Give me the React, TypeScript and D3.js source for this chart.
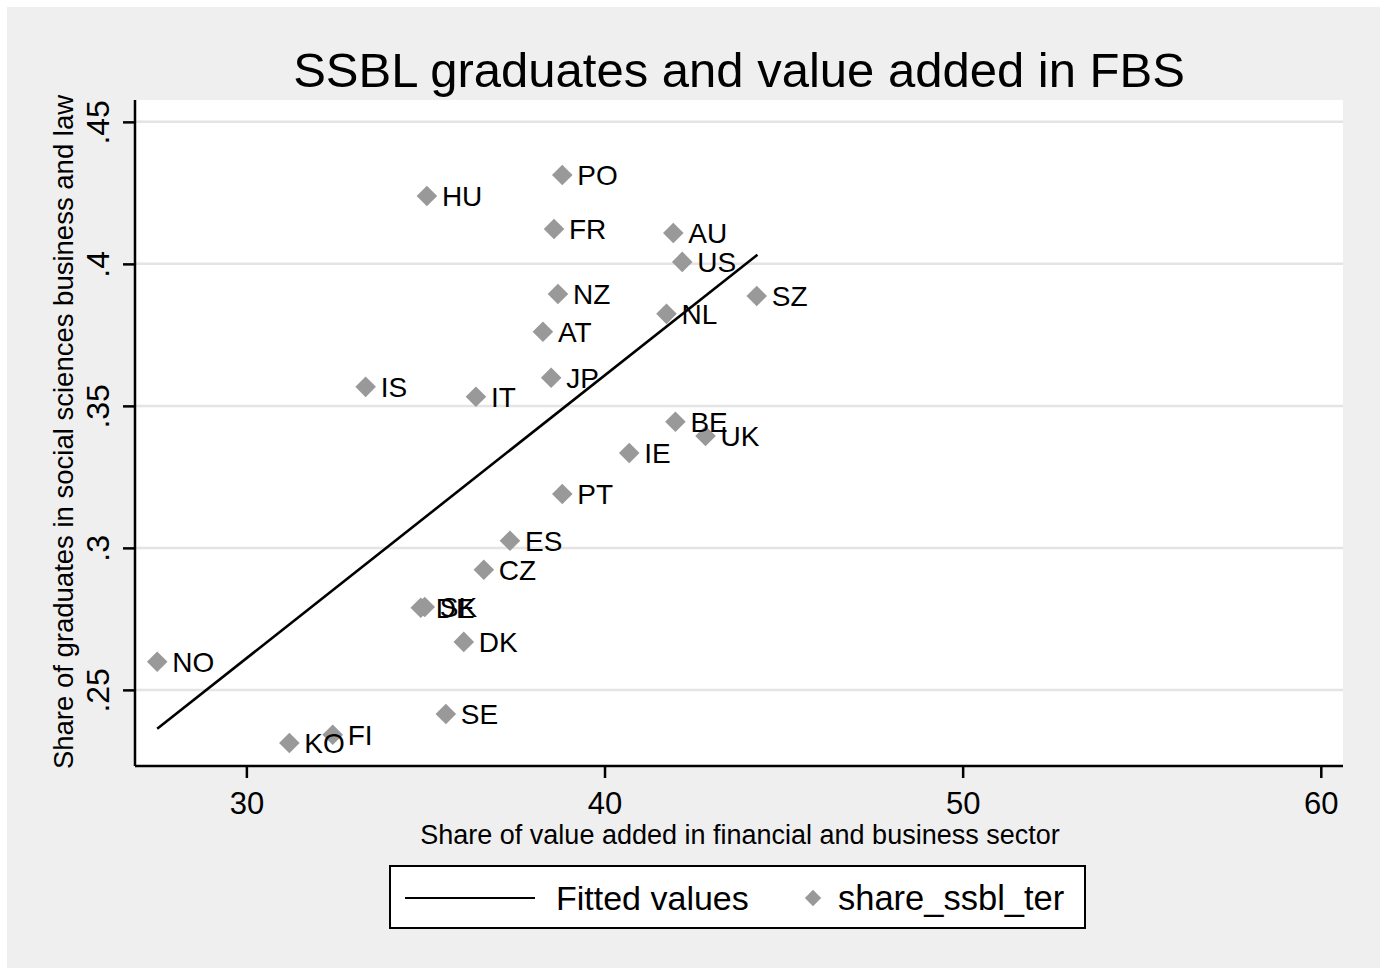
import { useEffect, useRef } from "react";
import * as d3 from "d3";

// country codes and their values
const countries = ["PO", "HU", "FR", "AU", "US", "NZ", "SZ", "NL", "AT", "JP", "IS", "IT", "BE", "UK", "IE", "PT", "ES", "CZ", "SK", "DE", "DK", "NO", "SE", "FI", "KO"];
const valueAdded = [38.82, 35.04, 38.59, 41.92, 42.17, 38.7, 44.25, 41.73, 38.28, 38.51, 33.33, 36.41, 41.98, 42.82, 40.69, 38.82, 37.36, 36.63, 34.98, 34.87, 36.07, 27.51, 35.57, 32.41, 31.2];
const ssblShare = [0.4313, 0.4239, 0.4123, 0.4109, 0.4007, 0.3894, 0.3887, 0.3824, 0.3761, 0.3599, 0.3567, 0.3532, 0.3444, 0.3394, 0.3334, 0.319, 0.3025, 0.2923, 0.2792, 0.2789, 0.2669, 0.2599, 0.2415, 0.2342, 0.2313];

// fitted line end points
const fittedX = [27.51, 44.27];
const fittedY = [0.2363, 0.4032];

const xTicks = [30, 40, 50, 60];
const yTicks = [0.25, 0.3, 0.35, 0.4, 0.45];
const yTickLabels = [".25", ".3", ".35", ".4", ".45"];

const FONT = "'Liberation Sans', Arial, sans-serif";
const MARKER = "#999999";

function App() {
  const ref = useRef<SVGSVGElement | null>(null);

  useEffect(() => {
    const W = 1386;
    const H = 974;
    const plot = { left: 135, right: 1343, top: 100, bottom: 766 };

    const svg = d3.select(ref.current);
    svg.selectAll("*").remove();

    // outer background
    svg.append("rect").attr("x", 0).attr("y", 0).attr("width", W).attr("height", H).attr("fill", "#ffffff");
    svg.append("rect").attr("x", 7).attr("y", 7).attr("width", 1373).attr("height", 961).attr("fill", "#efefef");

    const x = d3.scaleLinear().domain([26.89, 60.62]).range([plot.left, plot.right]);
    const y = d3.scaleLinear().domain([0.2232, 0.4577]).range([plot.bottom, plot.top]);

    // plot region
    svg
      .append("rect")
      .attr("x", plot.left)
      .attr("y", plot.top)
      .attr("width", plot.right - plot.left)
      .attr("height", plot.bottom - plot.top)
      .attr("fill", "#ffffff");

    // grid lines
    svg
      .append("g")
      .selectAll("line")
      .data(yTicks)
      .enter()
      .append("line")
      .attr("x1", plot.left)
      .attr("x2", plot.right)
      .attr("y1", (d) => y(d))
      .attr("y2", (d) => y(d))
      .attr("stroke", "#e4e4e4")
      .attr("stroke-width", 2.5);

    // title
    svg
      .append("text")
      .attr("x", 739)
      .attr("y", 87)
      .attr("text-anchor", "middle")
      .attr("font-family", FONT)
      .attr("font-size", 49)
      .attr("fill", "#000")
      .text("SSBL graduates and value added in FBS");

    // x axis
    const xAxis = svg
      .append("g")
      .attr("transform", `translate(0,${plot.bottom})`)
      .call(d3.axisBottom(x).tickValues(xTicks).tickSize(12).tickFormat((d) => String(d)));
    xAxis.select(".domain").attr("stroke", "#000").attr("stroke-width", 2.5).attr("d", `M${plot.left},0H${plot.right}`);
    xAxis.selectAll(".tick line").attr("stroke", "#000").attr("stroke-width", 2.5);
    xAxis
      .selectAll(".tick text")
      .attr("font-family", FONT)
      .attr("font-size", 31)
      .attr("fill", "#000")
      .attr("dy", 0)
      .attr("y", 48);

    // y axis
    const yAxis = svg
      .append("g")
      .attr("transform", `translate(${plot.left},0)`)
      .call(d3.axisLeft(y).tickValues(yTicks).tickSize(12).tickFormat((d, i) => yTickLabels[i]));
    yAxis.select(".domain").attr("stroke", "#000").attr("stroke-width", 2.5).attr("d", `M0,${plot.top}V${plot.bottom}`);
    yAxis.selectAll(".tick line").attr("stroke", "#000").attr("stroke-width", 2.5);
    yAxis
      .selectAll(".tick text")
      .attr("font-family", FONT)
      .attr("font-size", 32)
      .attr("fill", "#000")
      .attr("x", null)
      .attr("dy", null)
      .attr("text-anchor", "middle")
      .attr("transform", "translate(-26,0) rotate(-90)");

    // axis titles
    svg
      .append("text")
      .attr("x", 740)
      .attr("y", 844)
      .attr("text-anchor", "middle")
      .attr("font-family", FONT)
      .attr("font-size", 27)
      .attr("fill", "#000")
      .text("Share of value added in financial and business sector");

    svg
      .append("text")
      .attr("transform", "translate(73,432) rotate(-90)")
      .attr("text-anchor", "middle")
      .attr("font-family", FONT)
      .attr("font-size", 27.5)
      .attr("fill", "#000")
      .text("Share of graduates in social sciences business and law");

    // fitted line
    const line = d3
      .line<number>()
      .x((d, i) => x(fittedX[i]))
      .y((d) => y(d));
    svg
      .append("path")
      .attr("d", line(fittedY))
      .attr("fill", "none")
      .attr("stroke", "#000")
      .attr("stroke-width", 2.6);

    const diamond = d3.symbol().type(d3.symbolDiamond2).size(270);

    const rows = countries.map((c, i) => ({ c, vx: valueAdded[i], vy: ssblShare[i] }));

    // points
    svg
      .append("g")
      .selectAll("path")
      .data(rows)
      .enter()
      .append("path")
      .attr("transform", (d) => `translate(${x(d.vx)},${y(d.vy)})`)
      .attr("d", diamond)
      .attr("fill", MARKER);

    // labels on top
    svg
      .append("g")
      .selectAll("text")
      .data(rows)
      .enter()
      .append("text")
      .attr("x", (d) => x(d.vx) + 15)
      .attr("y", (d) => y(d.vy) + 10)
      .attr("font-family", FONT)
      .attr("font-size", 28)
      .attr("fill", "#000")
      .text((d) => d.c);

    // legend
    const lg = svg.append("g");
    lg.append("rect")
      .attr("x", 390)
      .attr("y", 866)
      .attr("width", 695)
      .attr("height", 62)
      .attr("fill", "#fff")
      .attr("stroke", "#000")
      .attr("stroke-width", 2);
    lg.append("line").attr("x1", 405).attr("x2", 535).attr("y1", 898).attr("y2", 898).attr("stroke", "#000").attr("stroke-width", 2);
    lg.append("text")
      .attr("x", 556)
      .attr("y", 910)
      .attr("font-family", FONT)
      .attr("font-size", 34)
      .attr("fill", "#000")
      .text("Fitted values");
    lg.append("path")
      .attr("transform", "translate(813,898)")
      .attr("d", d3.symbol().type(d3.symbolDiamond2).size(170))
      .attr("fill", MARKER);
    lg.append("text")
      .attr("x", 838)
      .attr("y", 910)
      .attr("font-family", FONT)
      .attr("font-size", 34.5)
      .attr("fill", "#000")
      .text("share_ssbl_ter");
  }, []);

  return (
    <svg
      ref={ref}
      width={1386}
      height={974}
      style={{ position: "absolute", left: 0, top: 0, display: "block" }}
    />
  );
}

export default App;
